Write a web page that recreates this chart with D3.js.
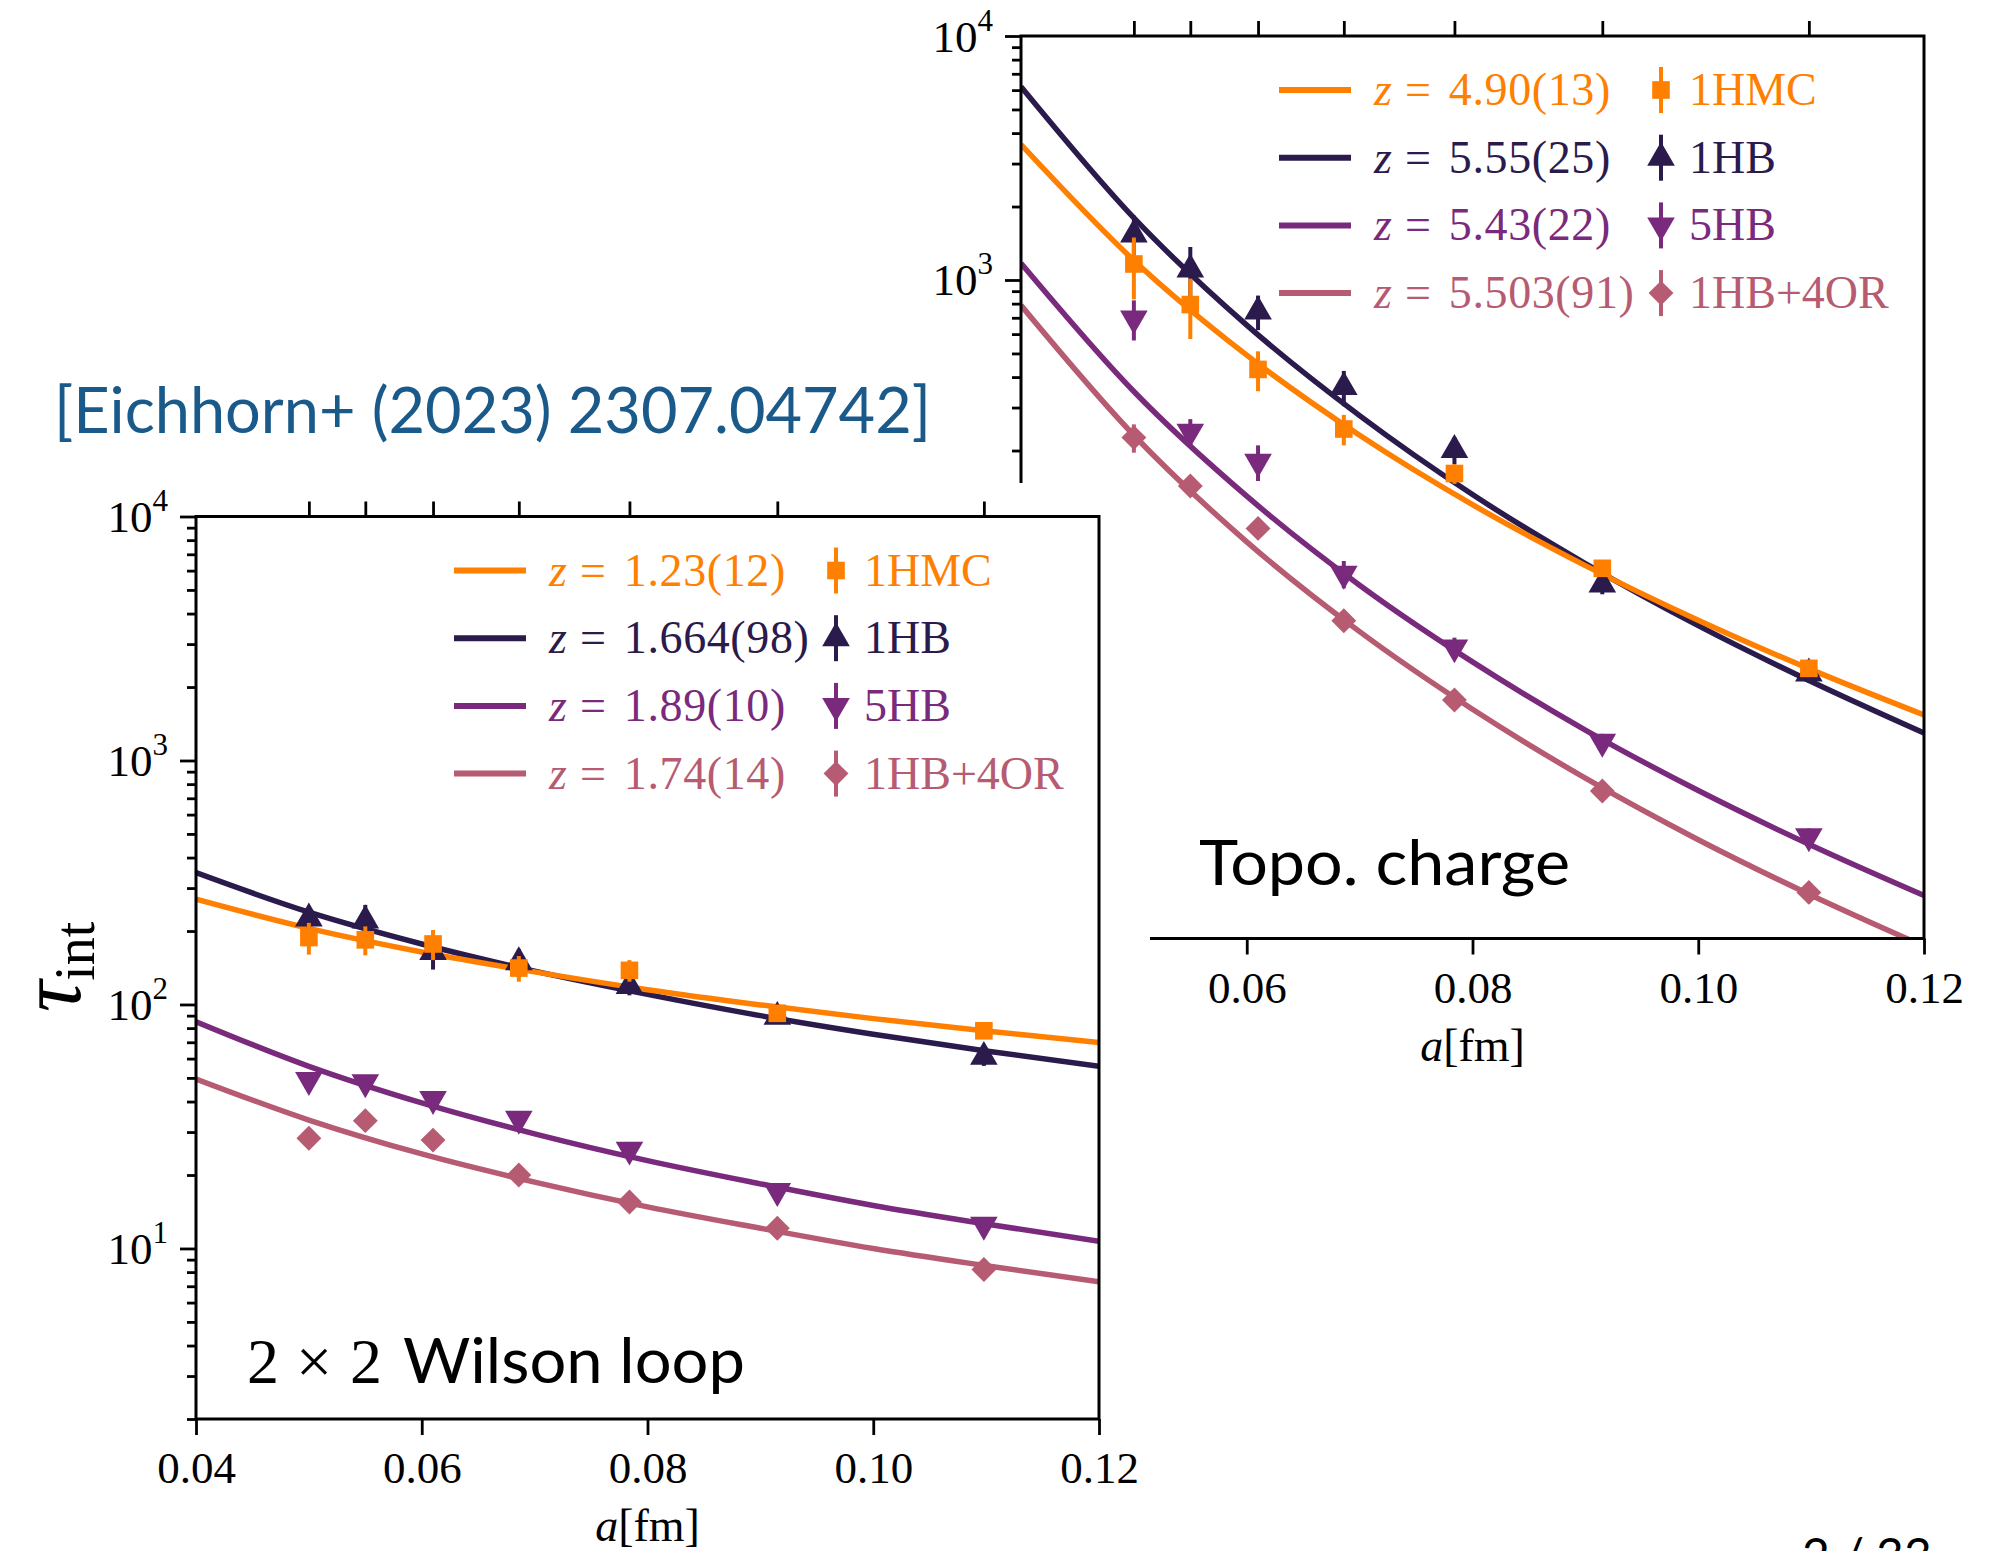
<!DOCTYPE html>
<html>
<head>
<meta charset="utf-8">
<script src="https://cdn.jsdelivr.net/npm/d3@7"></script>
<style>
  body { margin: 0; background: #fff; }
  svg { display: block; }
</style>
</head>
<body>
<script>
const W = 2008;
const H = 1551;

// lattice spacings a[fm] of the seven ensembles
const spacings = [0.05, 0.055, 0.061, 0.0686, 0.0784, 0.0915, 0.1098];
const fitX = [0.04, 0.05, 0.06, 0.07, 0.08, 0.09, 0.1, 0.11, 0.12];

const algos = ["1HMC", "1HB", "5HB", "1HB+4OR"];
const colors = ["#ff7f00", "#2b1a4c", "#7a2a7c", "#b65b71"];
const shapes = ["square", "up", "down", "diamond"];

// 2x2 Wilson loop
const wilsonZ = ["1.23(12)", "1.664(98)", "1.89(10)", "1.74(14)"];
const wilsonHMC = [188, 184, 177, 141, 138, 92, 78];
const wilsonHMCErr = [28, 25, 25, 17, 14, 5, 4];
const wilsonHB = [225, 221, 164, 149, 119, 89, 61];
const wilsonHBErr = [25, 35, 25, 20, 10, 5, 5];
const wilson5HB = [49, 48, 41, 34, 25.4, 17.2, 12.5];
const wilson5HBErr = [2.5, 2.5, 2, 2, 1.5, 1, 0.8];
const wilsonOR = [28.3, 33.4, 27.8, 20, 15.5, 12.1, 8.2];
const wilsonORErr = [1.5, 1.5, 1.5, 1, 0.8, 0.6, 0.4];
const wilsonFitHMC = [270, 205, 164, 136, 115, 99.6, 87.5, 77.8, 69.9];
const wilsonFitHB = [347, 239, 177, 137, 110, 90, 75.5, 64.5, 55.8];
const wilsonFit5HB = [85, 55.8, 39.5, 29.5, 22.9, 18.4, 15.0, 12.6, 10.7];
const wilsonFitOR = [49.5, 33.6, 24.4, 18.7, 14.8, 12.1, 10.0, 8.5, 7.3];

// topological charge
const topoZ = ["4.90(13)", "5.55(25)", "5.43(22)", "5.503(91)"];
const topoHMC = [1163, 793, 430, 245, 161, 65.8, 25.6];
const topoHMCErr = [330, 220, 80, 35, 15, 4, 1.5];
const topoHB = [1536, 1105, 743, 364, 201, 56.5, 24.4];
const topoHBErr = [300, 260, 120, 60, 25, 5, 2];
const topo5HB = [695, 239, 180, 62.5, 31.2, 12.8, 5.25];
const topo5HBErr = [130, 30, 30, 8, 3, 1, 0.4];
const topoOR = [226, 143, 95.9, 40.1, 19.0, 8.05, 3.09];
const topoORErr = [30, 12, 8, 3, 1.5, 0.6, 0.3];
const topoFitHMC = [3590, 1203, 492, 231, 120, 67.5, 40.3, 25.3, 16.5];
const topoFitHB = [6200, 1797, 653, 278, 132, 68.8, 38.3, 22.6, 13.9];
const topoFit5HB = [1171, 349, 130, 56.1, 27.2, 14.3, 8.08, 4.82, 3.0];
const topoFitOR = [787, 231, 84.5, 36.2, 17.4, 9.08, 5.08, 3.01, 1.86];

const xTicks = [0.04, 0.06, 0.08, 0.1, 0.12];
const yMajor = [10, 100, 1000, 10000];
const yMinor = [2, 3, 4, 5, 6, 7, 8, 9, 20, 30, 40, 50, 60, 70, 80, 90,
  200, 300, 400, 500, 600, 700, 800, 900, 2000, 3000, 4000, 5000, 6000, 7000, 8000, 9000];

const serif = "'Liberation Serif', 'Times New Roman', serif";
const sans = "Lato, 'Open Sans', sans-serif";
const pw = 903;
const ph = 902.5;
// top edge of the pasted Wilson loop figure, which hides part of the topo panel
const coverTop = 483;
const coverRight = 1150;

const svg = d3.select("body").append("svg")
  .attr("width", W)
  .attr("height", H)
  .attr("viewBox", `0 0 ${W} ${H}`);

function symbolPath(shape) {
  if (shape === "square") return d3.symbol(d3.symbolSquare, 310)();
  if (shape === "diamond") return d3.symbol(d3.symbolSquare, 310)();
  return d3.symbol(d3.symbolTriangle, 330)();
}
function symbolRot(shape) {
  if (shape === "down") return " rotate(180)";
  if (shape === "diamond") return " rotate(45)";
  return "";
}

function drawPanel(p) {
  const x = d3.scaleLinear().domain([0.04, 0.12]).range([p.left, p.left + pw]);
  const y = d3.scaleLog().domain([2, 1e4]).range([p.top + ph, p.top]);
  const g = svg.append("g");

  g.append("clipPath").attr("id", "clip-" + p.id)
    .append("rect")
    .attr("x", p.left).attr("y", p.top)
    .attr("width", pw).attr("height", ph);

  // axes
  const xAxis = g.append("g")
    .attr("transform", `translate(0,${p.top + ph})`)
    .call(d3.axisBottom(x).tickValues(p.xTicks).tickFormat(d3.format(".2f")).tickSize(16));
  xAxis.selectAll("text").attr("y", 64).attr("dy", 0);

  const topAxis = g.append("g")
    .attr("transform", `translate(0,${p.top})`)
    .call(d3.axisTop(x).tickValues(spacings).tickFormat("").tickSize(15));
  topAxis.selectAll("text").remove();

  const minorAxis = g.append("g")
    .attr("transform", `translate(${p.left},0)`)
    .call(d3.axisLeft(y).tickValues(yMinor.filter((v) => y(v) < p.yCut)).tickFormat("").tickSize(9));
  minorAxis.selectAll("text").remove();

  const yAxis = g.append("g")
    .attr("transform", `translate(${p.left},0)`)
    .call(d3.axisLeft(y).tickValues(yMajor.filter((v) => y(v) < p.yCut)).tickSize(16));
  yAxis.selectAll("text").each(function (d) {
    const t = d3.select(this).text(null).attr("x", -28).attr("dy", 0).attr("y", 15);
    t.append("tspan").text("10");
    t.append("tspan").attr("font-size", 31).attr("dy", -21).text(Math.round(Math.log10(d)));
  });

  g.selectAll(".domain").remove();
  g.selectAll(".tick line").attr("stroke", "#000").attr("stroke-width", 2.8);
  g.selectAll(".tick text")
    .attr("fill", "#000")
    .attr("font-family", serif)
    .attr("font-size", 45);

  // fit curves, 1HMC last so it sits on top
  const order = [1, 2, 3, 0];
  const line = d3.line()
    .x((d, i) => x(fitX[i]))
    .y((d) => y(d))
    .curve(d3.curveMonotoneX);

  const curves = g.append("g").attr("clip-path", `url(#clip-${p.id})`);
  order.forEach((k) => {
    curves.append("path")
      .attr("d", line(p.fits[k]))
      .attr("fill", "none")
      .attr("stroke", colors[k])
      .attr("stroke-width", 5.5);
  });

  // data points with error bars
  order.forEach((k) => {
    const s = g.append("g");
    s.selectAll("line")
      .data(p.vals[k])
      .enter()
      .append("line")
      .attr("x1", (d, i) => x(spacings[i]))
      .attr("x2", (d, i) => x(spacings[i]))
      .attr("y1", (d, i) => y(d + p.errs[k][i]))
      .attr("y2", (d, i) => y(Math.max(d - p.errs[k][i], 0.1)))
      .attr("stroke", colors[k])
      .attr("stroke-width", 4);
    s.selectAll("path")
      .data(p.vals[k])
      .enter()
      .append("path")
      .attr("d", symbolPath(shapes[k]))
      .attr("transform", (d, i) => `translate(${x(spacings[i])},${y(d)})` + symbolRot(shapes[k]))
      .attr("fill", colors[k]);
  });

  // frame
  g.append("rect")
    .attr("x", p.left).attr("y", p.top)
    .attr("width", pw).attr("height", ph)
    .attr("fill", "none")
    .attr("stroke", "#000")
    .attr("stroke-width", 3);

  // legend
  algos.forEach((name, k) => {
    const ry = p.top + 54 + k * 67.7;
    const lg = g.append("g").attr("fill", colors[k]).attr("font-family", serif).attr("font-size", 46);
    lg.append("line")
      .attr("x1", p.left + 258).attr("x2", p.left + 330)
      .attr("y1", ry).attr("y2", ry)
      .attr("stroke", colors[k]).attr("stroke-width", 6);
    const t = lg.append("text").attr("x", p.left + 353).attr("y", ry + 15);
    t.append("tspan").attr("font-style", "italic").text("z");
    t.append("tspan").attr("dx", 13).text("=");
    t.append("tspan").attr("dx", 18).attr("letter-spacing", 0.6).text(p.z[k]);
    lg.append("line")
      .attr("x1", p.left + 640).attr("x2", p.left + 640)
      .attr("y1", ry - 23).attr("y2", ry + 23)
      .attr("stroke", colors[k]).attr("stroke-width", 4);
    lg.append("path")
      .attr("d", symbolPath(shapes[k]))
      .attr("transform", `translate(${p.left + 640},${ry})` + symbolRot(shapes[k]));
    lg.append("text").attr("x", p.left + 668).attr("y", ry + 15).text(name);
  });

  // x label
  const xl = g.append("text")
    .attr("x", p.left + pw / 2)
    .attr("y", p.top + ph + 122)
    .attr("text-anchor", "middle")
    .attr("font-family", serif)
    .attr("font-size", 46);
  xl.append("tspan").attr("font-style", "italic").text("a");
  xl.append("tspan").text("[fm]");

  return g;
}

// topological charge panel (behind)
const back = drawPanel({
  id: "topo",
  left: 1021,
  top: 36,
  yCut: coverTop,
  xTicks: xTicks.filter((v) => v > 0.05),
  z: topoZ,
  vals: [topoHMC, topoHB, topo5HB, topoOR],
  errs: [topoHMCErr, topoHBErr, topo5HBErr, topoORErr],
  fits: [topoFitHMC, topoFitHB, topoFit5HB, topoFitOR]
});
back.append("text")
  .attr("x", 1199)
  .attr("y", 885)
  .attr("font-family", sans)
  .attr("font-size", 62)
  .attr("textLength", 371)
  .attr("lengthAdjust", "spacingAndGlyphs")
  .text("Topo. charge");

// white background of the pasted Wilson loop figure
svg.append("rect")
  .attr("x", 0).attr("y", coverTop)
  .attr("width", coverRight).attr("height", H - coverTop)
  .attr("fill", "#fff");

// Wilson loop panel (front)
const front = drawPanel({
  id: "wilson",
  left: 196,
  top: 516.5,
  yCut: H,
  xTicks: xTicks,
  z: wilsonZ,
  vals: [wilsonHMC, wilsonHB, wilson5HB, wilsonOR],
  errs: [wilsonHMCErr, wilsonHBErr, wilson5HBErr, wilsonORErr],
  fits: [wilsonFitHMC, wilsonFitHB, wilsonFit5HB, wilsonFitOR]
});

// "2 x 2" is set in math type, "Wilson loop" in the slide font
const wl = front.append("text")
  .attr("y", 1383)
  .attr("font-family", serif)
  .attr("font-size", 64);
wl.append("tspan").attr("x", 247).text("2");
wl.append("tspan").attr("x", 296).text("×");
wl.append("tspan").attr("x", 350).text("2");
front.append("text")
  .attr("x", 403)
  .attr("y", 1383)
  .attr("font-family", sans)
  .attr("font-size", 62)
  .attr("textLength", 342)
  .attr("lengthAdjust", "spacingAndGlyphs")
  .text("Wilson loop");

// y label
const yl = front.append("text")
  .attr("transform", "translate(80,967) rotate(-90)")
  .attr("text-anchor", "middle")
  .attr("font-family", serif)
  .attr("font-size", 88);
yl.append("tspan").attr("font-style", "italic").text("τ");
yl.append("tspan").attr("font-size", 56).attr("dy", 14).text("int");

// citation
svg.append("text")
  .attr("x", 54)
  .attr("y", 433)
  .attr("font-family", sans)
  .attr("font-size", 64)
  .attr("fill", "#1a5a8a")
  .attr("textLength", 877)
  .attr("lengthAdjust", "spacingAndGlyphs")
  .text("[Eichhorn+ (2023) 2307.04742]");

// slide number, cut off by the page edge
svg.append("text")
  .attr("x", 1802)
  .attr("y", 1573)
  .attr("font-family", sans)
  .attr("font-size", 48)
  .text("2 / 33");
</script>
</body>
</html>
